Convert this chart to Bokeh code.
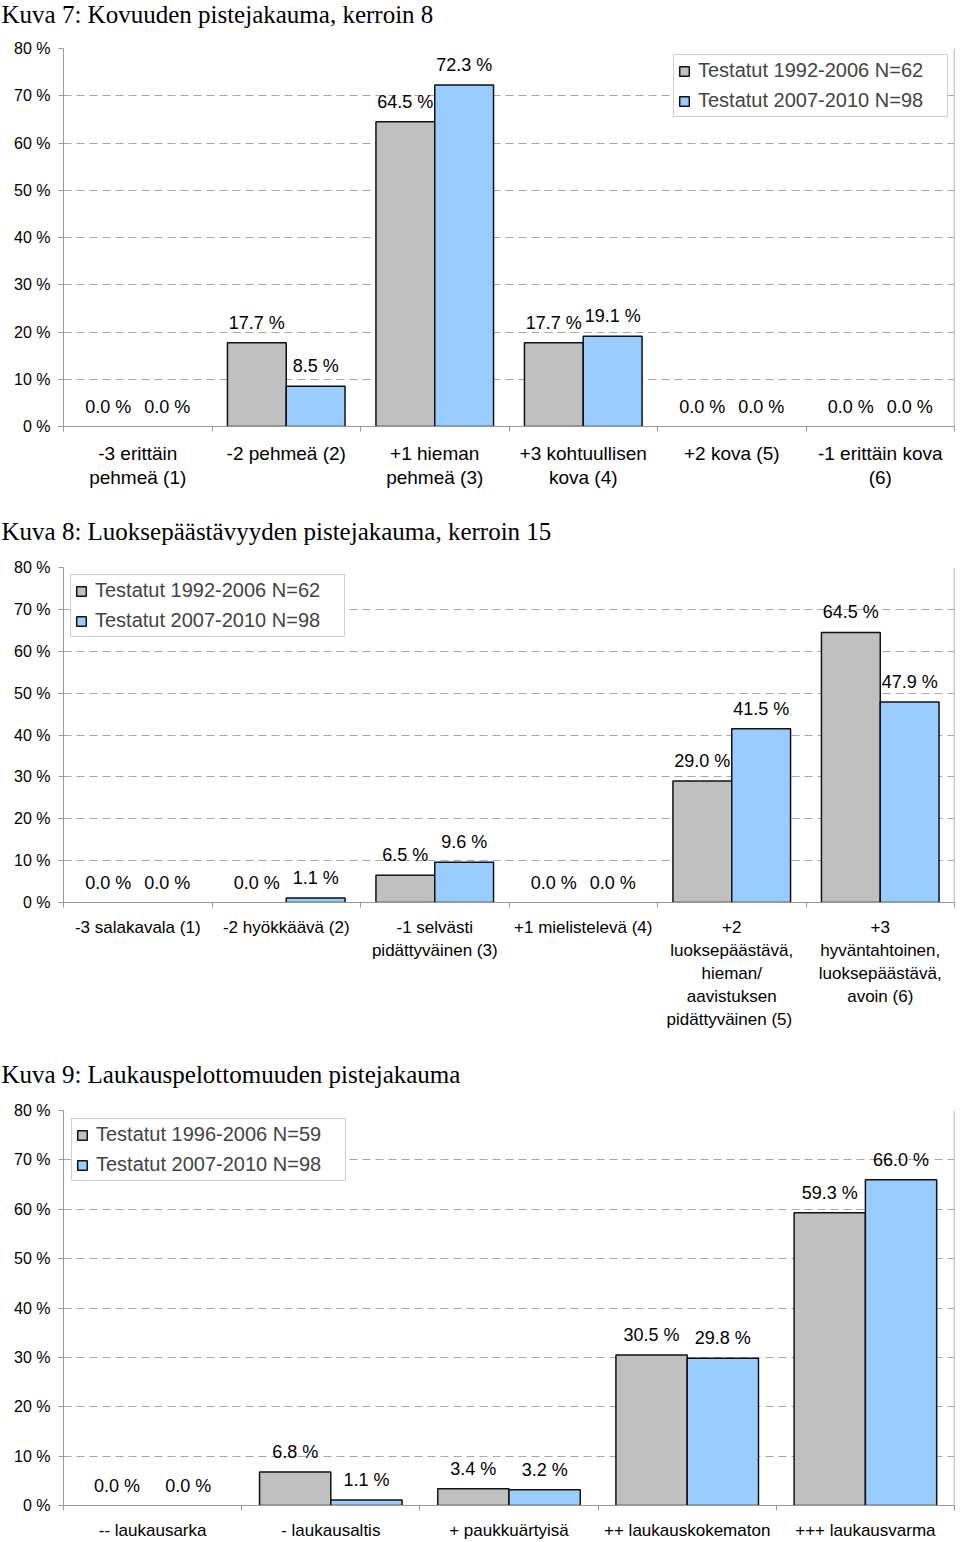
import numpy as np
from bokeh.plotting import figure
from bokeh.models import (FixedTicker, ColumnDataSource, Span, Legend, LegendItem,
                          CDSView, BooleanFilter)
from bokeh.layouts import column
from bokeh.embed import file_html
from bokeh.resources import INLINE
from bokeh.core.properties import value

# ---------------- data ----------------
y_ticks = [0, 10, 20, 30, 40, 50, 60, 70, 80]
y_tick_labels = ["0 %", "10 %", "20 %", "30 %", "40 %", "50 %", "60 %", "70 %", "80 %"]

c1_title = "Kuva 7: Kovuuden pistejakauma, kerroin 8"
c1_categories = ["-3 erittäin\npehmeä (1)", "-2 pehmeä (2)", "+1 hieman\npehmeä (3)",
                 "+3 kohtuullisen\nkova (4)", "+2 kova (5)", "-1 erittäin kova\n(6)"]
c1_old = [0.0, 17.7, 64.5, 17.7, 0.0, 0.0]
c1_new = [0.0, 8.5, 72.3, 19.1, 0.0, 0.0]
c1_series = ["Testatut 1992-2006 N=62", "Testatut 2007-2010 N=98"]

c2_title = "Kuva 8: Luoksepäästävyyden pistejakauma, kerroin 15"
c2_categories = ["-3 salakavala (1)", "-2 hyökkäävä (2)", "-1 selvästi\npidättyväinen (3)",
                 "+1 mielistelevä (4)",
                 "+2\nluoksepäästävä,\nhieman/\naavistuksen\npidättyväinen  (5)",
                 "+3\nhyväntahtoinen,\nluoksepäästävä,\navoin (6)"]
c2_old = [0.0, 0.0, 6.5, 0.0, 29.0, 64.5]
c2_new = [0.0, 1.1, 9.6, 0.0, 41.5, 47.9]
c2_series = ["Testatut 1992-2006 N=62", "Testatut 2007-2010 N=98"]

c3_title = "Kuva 9: Laukauspelottomuuden pistejakauma"
c3_categories = ["-- laukausarka", "- laukausaltis", "+ paukkuärtyisä",
                 "++ laukauskokematon", "+++ laukausvarma"]
c3_old = [0.0, 6.8, 3.4, 30.5, 59.3]
c3_new = [0.0, 1.1, 3.2, 29.8, 66.0]
c3_series = ["Testatut 1996-2006 N=59", "Testatut 2007-2010 N=98"]

GRAY = "#C0C0C0"
BLUE = "#99CCFF"
SANS = "Liberation Sans"
SERIF = "Liberation Serif"


def make_title(text, height, standoff):
    t = figure(width=960, height=height, x_axis_location=None, y_axis_location=None,
               toolbar_location=None, output_backend="svg", min_border=0,
               outline_line_color=None, title=text)
    t.grid.visible = False
    t.title.text_font = SERIF
    t.title.text_font_size = "25px"
    t.title.text_font_style = "normal"
    t.title.text_color = "black"
    t.title.align = "left"
    t.title.vertical_align = "top"
    t.title.offset = -62
    t.title.standoff = standoff
    return t


def make_chart(cats, old, new, series, legend_loc, legend_margin, height,
               b_top, b_bottom, cat_font, cat_lh, cat_standoff, bar_w, b_right):
    n = len(cats)
    p = figure(width=960, height=height, x_range=(0, n), y_range=(0, 80),
               output_backend="svg", toolbar_location=None,
               min_border_left=63, min_border_right=b_right,
               min_border_top=b_top, min_border_bottom=b_bottom)

    centers = np.arange(n) + 0.5
    xo = centers - bar_w / 2
    xn = centers + bar_w / 2
    so = ColumnDataSource(dict(x=xo, top=old))
    sn = ColumnDataSource(dict(x=xn, top=new))
    vo = CDSView(filter=BooleanFilter([v > 0 for v in old]))
    vn = CDSView(filter=BooleanFilter([v > 0 for v in new]))
    r1 = p.vbar(x="x", top="top", width=bar_w, source=so, view=vo, fill_color=GRAY,
                line_color="#111111", line_width=1.5)
    r2 = p.vbar(x="x", top="top", width=bar_w, source=sn, view=vn, fill_color=BLUE,
                line_color="#111111", line_width=1.5)

    lab = ColumnDataSource(dict(x=list(xo) + list(xn), y=list(old) + list(new),
                                t=[f"{v:.1f} %" for v in list(old) + list(new)]))
    p.text(x="x", y="y", text="t", source=lab, text_align="center",
           text_baseline="middle", y_offset=-20, text_font=value(SANS),
           text_font_size="18px", text_color="black")

    # axes
    p.xaxis.ticker = FixedTicker(ticks=list(centers), minor_ticks=list(range(n + 1)))
    p.xaxis.major_label_overrides = {float(c): l for c, l in zip(centers, cats)}
    p.xaxis.major_tick_out = 0
    p.xaxis.major_tick_in = 0
    p.xaxis.minor_tick_out = 5
    p.xaxis.minor_tick_in = 0
    p.xaxis.minor_tick_line_color = "#999999"
    p.xaxis.axis_line_color = "#999999"
    p.xaxis.major_label_text_font = SANS
    p.xaxis.major_label_text_font_size = cat_font
    p.xaxis.major_label_text_color = "black"
    p.xaxis.major_label_text_line_height = cat_lh
    p.xaxis.major_label_standoff = cat_standoff

    p.yaxis.ticker = FixedTicker(ticks=y_ticks)
    p.yaxis.major_label_overrides = {t: l for t, l in zip(y_ticks, y_tick_labels)}
    p.yaxis.major_tick_out = 5
    p.yaxis.major_tick_in = 0
    p.yaxis.minor_tick_line_color = None
    p.yaxis.major_tick_line_color = "#999999"
    p.yaxis.axis_line_color = "#999999"
    p.yaxis.major_label_text_font = SANS
    p.yaxis.major_label_text_font_size = "16px"
    p.yaxis.major_label_text_color = "black"
    p.yaxis.major_label_standoff = 8

    p.xgrid.visible = False
    p.ygrid.ticker = FixedTicker(ticks=y_ticks)
    p.ygrid.grid_line_color = "#A8A8A8"
    p.ygrid.grid_line_dash = "8 5"
    p.ygrid.grid_line_width = 1

    p.outline_line_color = None
    p.add_layout(Span(location=n, dimension="height", line_color="#A0A0A0",
                      line_width=1.5))

    legend = Legend(items=[LegendItem(label=series[0], renderers=[r1]),
                           LegendItem(label=series[1], renderers=[r2])],
                    location=legend_loc, label_text_font=SANS,
                    label_text_font_size="20px", glyph_width=12, glyph_height=12,
                    label_height=20, spacing=7, padding=4, margin=legend_margin,
                    label_standoff=8, label_width=245,
                    border_line_color="#A0A0A0", background_fill_alpha=1.0)
    p.add_layout(legend)
    return p


t1 = make_title(c1_title, 38, 0)
p1 = make_chart(c1_categories, c1_old, c1_new, c1_series, "top_right", 6,
                479, 10, 91, "19px", 1.18, 11, 0.396, 0)
t2 = make_title(c2_title, 37, 0)
p2 = make_chart(c2_categories, c2_old, c2_new, c2_series, "top_left", 7,
                506, 13, 158, "17px", 1.22, 10, 0.396, 6)
t3 = make_title(c3_title, 37, 0)
p3 = make_chart(c3_categories, c3_old, c3_new, c3_series, "top_left", 8,
                445, 13, 37, "17px", 1.2, 10, 0.40, 0)

layout = column(t1, p1, t2, p2, t3, p3, spacing=0)
open("out.html", "w").write(file_html(layout, INLINE, "Kuvat 7-9"))
